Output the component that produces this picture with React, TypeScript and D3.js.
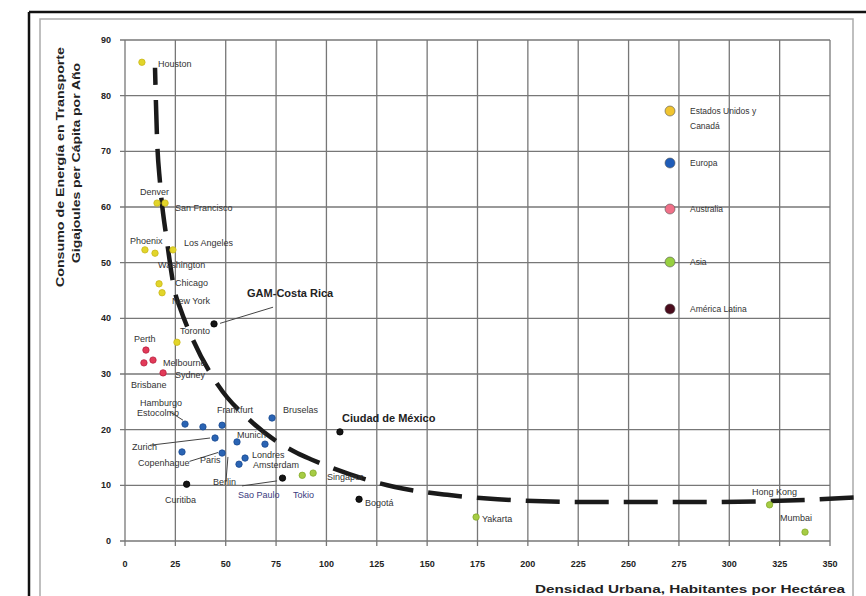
import React from "react";
import * as d3 from "d3";

// ---- data ----
const usaNames = ["Houston", "Denver", "San Francisco", "Phoenix", "Washington", "Los Angeles", "Chicago", "New York", "Toronto"];
const usaDensity = [8.4, 15.9, 19.9, 9.9, 14.9, 23.8, 16.9, 18.4, 25.8];
const usaEnergy = [86.0, 60.7, 60.7, 52.3, 51.7, 52.3, 46.2, 44.6, 35.7];

const eurNames = ["Estocolmo", "Hamburgo", "Frankfurt", "Zurich", "Paris", "Munich", "Viena", "Bruselas", "Londres", "Amsterdam", "Copenhague"];
const eurDensity = [29.8, 38.7, 48.2, 44.7, 48.2, 55.6, 69.5, 73.0, 59.6, 56.6, 28.3];
const eurEnergy = [21.0, 20.5, 20.8, 18.5, 15.8, 17.8, 17.4, 22.1, 14.9, 13.8, 16.0];

const ausNames = ["Perth", "Brisbane", "Melbourne", "Sydney"];
const ausDensity = [10.4, 9.4, 13.9, 18.9];
const ausEnergy = [34.3, 32.0, 32.5, 30.2];

const asiaNames = ["Tokio", "Singapur", "Yakarta", "Hong Kong", "Mumbai"];
const asiaDensity = [88.0, 93.4, 174.3, 320.0, 337.6];
const asiaEnergy = [11.8, 12.2, 4.3, 6.5, 1.6];

const latNames = ["GAM-Costa Rica", "Ciudad de México", "Curitiba", "Sao Paulo", "Bogotá"];
const latDensity = [44.2, 106.7, 30.6, 78.2, 116.2];
const latEnergy = [39.0, 19.6, 10.2, 11.3, 7.5];

const trendDensity = [14.9, 15.9, 17.4, 20.9, 24.8, 27.3, 33.8, 46.2, 63.5, 85.4, 92.8, 134, 160, 185, 231, 288, 339, 366];
const trendEnergy = [85.0, 72.4, 64.3, 53.7, 44.7, 41.9, 36.1, 28.0, 21.2, 15.8, 14.6, 9.7, 8.3, 7.5, 7.0, 7.0, 7.4, 7.9];

const xTicks = [0, 25, 50, 75, 100, 125, 150, 175, 200, 225, 250, 275, 300, 325, 350];
const yTicks = [0, 10, 20, 30, 40, 50, 60, 70, 80, 90];

const legendNames = [["Estados Unidos y", "Canadá"], ["Europa"], ["Australia"], ["Asia"], ["América Latina"]];

// label anchors (data units: left edge, vertical middle)
const labelText = ["Houston", "Denver", "San Francisco", "Phoenix", "Los Angeles", "Washington", "Chicago", "New York", "Toronto", "Perth", "Melbourne", "Sydney", "Brisbane", "Hamburgo", "Estocolmo", "Frankfurt", "Bruselas", "Munich", "Zurich", "Copenhague", "Paris", "Londres", "Amsterdam", "Berlin", "Curitiba", "Sao Paulo", "Tokio", "Singapur", "Bogotá", "Yakarta", "Hong Kong", "Mumbai"];
const labelX = [16.4, 7.4, 24.8, 2.5, 29.3, 16.4, 24.8, 23.3, 27.3, 4.5, 18.9, 24.8, 3.0, 7.4, 6.0, 45.7, 78.4, 55.6, 3.5, 6.5, 37.2, 63.0, 63.5, 43.7, 19.9, 56.1, 83.4, 100.3, 119.1, 177.2, 311.3, 325.2];
const labelY = [85.7, 62.7, 59.8, 53.9, 53.5, 49.6, 46.3, 43.1, 37.7, 36.3, 32.0, 29.8, 28.0, 24.8, 23.0, 23.5, 23.5, 19.0, 16.9, 14.0, 14.5, 15.4, 13.7, 10.6, 7.4, 8.3, 8.3, 11.5, 6.8, 4.0, 8.8, 4.1];
const boldText = ["GAM-Costa Rica", "Ciudad de México"];
const boldX = [60.6, 107.7];
const boldY = [44.5, 22.1];

// leader lines [x1,y1,x2,y2] in data units
const leaders = [
  [73.5, 42.0, 47.2, 39.1],
  [12.4, 17.2, 42.2, 18.5],
  [22.3, 23.2, 28.8, 21.7],
  [32.0, 14.3, 46.2, 15.9],
  [51.1, 15.1, 50.1, 10.6],
  [58.1, 9.9, 75.5, 10.8],
];

export default function App() {
  const W = 866, H = 596;
  const x = d3.scaleLinear().domain([0, 350]).range([125, 830]);
  const y = d3.scaleLinear().domain([0, 90]).range([541, 40]);

  const series = [
    { d: usaDensity, e: usaEnergy, color: "#e2d52a", stroke: "#c9b81a" },
    { d: eurDensity, e: eurEnergy, color: "#2a64b4", stroke: "#1a4a90" },
    { d: ausDensity, e: ausEnergy, color: "#e23a58", stroke: "#b82040" },
    { d: asiaDensity, e: asiaEnergy, color: "#a6cc44", stroke: "#84aa2a" },
    { d: latDensity, e: latEnergy, color: "#151515", stroke: "#000" },
  ];
  const legendColors = ["#f0c430", "#1f5cb8", "#f07088", "#98d040", "#4a0c1c"];
  const legendY = [111, 163, 209, 262, 309];

  const line = d3
    .line<number>()
    .x((_, i) => x(trendDensity[i]))
    .y((v) => y(v))
    .curve(d3.curveMonotoneX);

  const font = "'Liberation Sans', Arial, sans-serif";

  return (
    <svg width={W} height={H} style={{ position: "absolute", left: 0, top: 0, background: "#fff" }} fontFamily={font}>
      <rect x={0} y={0} width={W} height={H} fill="#fff" />
      {/* frames */}
      <line x1={29} y1={12} x2={W} y2={12} stroke="#111" strokeWidth={2.5} />
      <line x1={29} y1={12} x2={29} y2={H} stroke="#111" strokeWidth={2.5} />
      <rect x={40} y={19} width={813} height={620} fill="none" stroke="#aaa" strokeWidth={1.5} />

      {/* grid */}
      {yTicks.map((t) => (
        <line key={"gy" + t} x1={120} x2={830} y1={y(t)} y2={y(t)} stroke="#777" strokeWidth={1.3} />
      ))}
      {xTicks.map((t) => (
        <line key={"gx" + t} x1={x(t)} x2={x(t)} y1={40} y2={546} stroke="#777" strokeWidth={1.3} />
      ))}

      {/* tick labels */}
      {yTicks.map((t) => (
        <text key={"ty" + t} x={111} y={y(t)} dy="0.35em" textAnchor="end" fontSize={9} fontWeight="bold" fill="#222">
          {t}
        </text>
      ))}
      {xTicks.map((t) => (
        <text key={"tx" + t} x={x(t)} y={564} dy="0.35em" textAnchor="middle" fontSize={9} fontWeight="bold" fill="#222">
          {t}
        </text>
      ))}

      {/* axis titles */}
      <text transform="translate(64,167) rotate(-90)" textAnchor="middle" fontSize={11} fontWeight="bold" fill="#222" textLength={240} lengthAdjust="spacingAndGlyphs">
        Consumo  de Energía  en Transporte
      </text>
      <text transform="translate(80,163) rotate(-90)" textAnchor="middle" fontSize={11} fontWeight="bold" fill="#222" textLength={200} lengthAdjust="spacingAndGlyphs">
        Gigajoules per Cápita por Año
      </text>
      <text x={535} y={593} fontSize={11} fontWeight="bold" fill="#222" textLength={310} lengthAdjust="spacingAndGlyphs">
        Densidad Urbana, Habitantes por Hectárea
      </text>

      {/* leader lines */}
      {leaders.map((l, i) => (
        <line key={"ld" + i} x1={x(l[0])} y1={y(l[1])} x2={x(l[2])} y2={y(l[3])} stroke="#444" strokeWidth={1} />
      ))}

      {/* trend curve */}
      <path d={line(trendEnergy) || ""} fill="none" stroke="#1a1a1a" strokeWidth={4.5} strokeDasharray="34 15" strokeDashoffset={17} />

      {/* points */}
      {series.map((s, si) =>
        s.d.map((dv, i) => (
          <circle key={"p" + si + "-" + i} cx={x(dv)} cy={y(s.e[i])} r={3.2} fill={s.color} stroke={s.stroke} strokeWidth={0.8} />
        ))
      )}

      {/* labels */}
      {labelText.map((t, i) => (
        <text key={"lb" + i} x={x(labelX[i])} y={y(labelY[i])} dy="0.35em" fontSize={9} fill={t === "Tokio" || t === "Sao Paulo" ? "#3a3a80" : "#333"}>
          {t}
        </text>
      ))}
      {boldText.map((t, i) => (
        <text key={"bl" + i} x={x(boldX[i])} y={y(boldY[i])} dy="0.35em" fontSize={11} fontWeight="bold" fill="#222">
          {t}
        </text>
      ))}

      {/* legend */}
      {legendNames.map((n, i) => (
        <g key={"lg" + i}>
          <circle cx={670} cy={legendY[i]} r={5} fill={legendColors[i]} stroke="#555" strokeWidth={0.6} />
          {n.map((ln, j) => (
            <text key={j} x={690} y={legendY[i] + j * 15} dy="0.35em" fontSize={8.5} fill="#333">
              {ln}
            </text>
          ))}
        </g>
      ))}
    </svg>
  );
}
